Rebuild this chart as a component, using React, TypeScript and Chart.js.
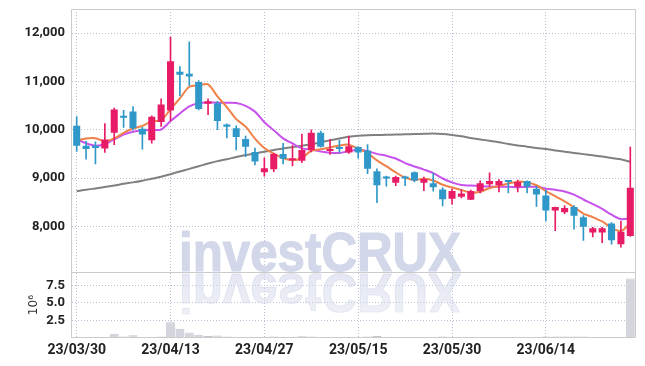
import React, { useEffect, useRef } from "react";
import { Chart, registerables } from "chart.js";

Chart.register(...registerables);

const dates = [
  "23/03/30", "23/03/31", "23/04/03", "23/04/04", "23/04/05", "23/04/06", "23/04/07", "23/04/10", "23/04/11", "23/04/12",
  "23/04/13", "23/04/14", "23/04/17", "23/04/18", "23/04/19", "23/04/20", "23/04/21", "23/04/24", "23/04/25", "23/04/26",
  "23/04/27", "23/04/28", "23/05/02", "23/05/03", "23/05/04", "23/05/08", "23/05/09", "23/05/10", "23/05/11", "23/05/12",
  "23/05/15", "23/05/16", "23/05/17", "23/05/18", "23/05/19", "23/05/22", "23/05/23", "23/05/24", "23/05/25", "23/05/26",
  "23/05/30", "23/05/31", "23/06/01", "23/06/02", "23/06/05", "23/06/07", "23/06/08", "23/06/09", "23/06/12", "23/06/13",
  "23/06/14", "23/06/15", "23/06/16", "23/06/19", "23/06/20", "23/06/21", "23/06/22", "23/06/23", "23/06/26", "23/06/27",
];

const opens = [
  10080, 9670, 9670, 9610, 9940, 10280, 10380, 10020, 9780, 10160,
  10400, 11200, 11160, 10990, 10540, 10550, 10110, 10030, 9810, 9540,
  9120, 9180, 9500, 9370, 9360, 9580, 9940, 9560, 9640, 9530,
  9640, 9570, 9140, 9020, 8900, 9020, 9120, 8900, 8890, 8760,
  8570, 8610, 8550, 8730, 8870, 8850, 8940, 8820, 8940, 8780,
  8640, 8330, 8290, 8400, 8190, 7870, 7870, 8060, 7630, 7800,
];
const highs = [
  10270, 9760, 9750, 10130, 10450, 10400, 10480, 10050, 10290, 10640,
  11920, 11310, 11820, 11020, 10640, 10590, 10120, 10080, 9870, 9620,
  9420, 9510, 9720, 9670, 9910, 10000, 9970, 9800, 9780, 9870,
  9650, 9690, 9190, 9040, 9040, 9040, 9130, 9020, 9100, 8800,
  8770, 8760, 8750, 8940, 9110, 8970, 8950, 8960, 8940, 8830,
  8750, 8400, 8430, 8430, 8220, 7980, 7980, 8080, 8110, 9640,
];
const lows = [
  9550, 9390, 9290, 9530, 9690, 10050, 9990, 9600, 9720, 10070,
  10180, 10700, 10920, 10410, 10310, 10000, 9830, 9580, 9440, 9270,
  9040, 9130, 9290, 9250, 9320, 9540, 9640, 9490, 9530, 9510,
  9410, 9090, 8490, 8830, 8840, 8840, 8920, 8740, 8730, 8420,
  8460, 8590, 8550, 8690, 8830, 8710, 8690, 8710, 8690, 8410,
  8110, 7910, 8260, 7940, 7710, 7780, 7660, 7630, 7570, 7790,
];
const closes = [
  9670, 9600, 9620, 9800, 10420, 10250, 10030, 9900, 10270, 10520,
  11420, 11140, 11100, 10430, 10590, 10180, 10060, 9850, 9650, 9340,
  9200, 9500, 9400, 9410, 9580, 9940, 9650, 9600, 9600, 9660,
  9530, 9190, 8850, 8990, 9020, 8990, 8950, 8980, 8810, 8560,
  8730, 8680, 8730, 8890, 8940, 8940, 8920, 8920, 8820, 8660,
  8330, 8400, 8380, 8220, 7990, 7960, 7960, 7710, 7890, 8800,
];

const ma5 = [
  9780, 9820, 9825, 9760, 9820, 9935, 10025, 10080, 10175, 10195,
  10425, 10650, 10890, 10920, 10940, 10690, 10470, 10220, 10065, 9815,
  9620, 9505, 9415, 9370, 9415, 9565, 9595, 9635, 9675, 9690,
  9605, 9515, 9365, 9245, 9115, 9010, 8960, 8985, 8950, 8860,
  8805, 8750, 8700, 8715, 8795, 8835, 8885, 8925, 8910, 8850,
  8730, 8625, 8515, 8395, 8265, 8190, 8100, 7970, 7900, 8065,
];
const ma10 = [
  9800, 9720, 9670, 9700, 9800, 9900, 9960, 9985, 9995, 10005,
  10180, 10335, 10485, 10550, 10565, 10560, 10560, 10555, 10495, 10375,
  10155, 9990, 9820, 9715, 9615, 9590, 9550, 9525, 9520, 9555,
  9585, 9555, 9500, 9460, 9405, 9310, 9240, 9175, 9100, 8990,
  8910, 8855, 8845, 8835, 8825, 8820, 8820, 8810, 8815, 8820,
  8780, 8755, 8720, 8655, 8555, 8460, 8360, 8240, 8150, 8165,
];
const maLong = [
  8730, 8755, 8785, 8815, 8845, 8880, 8910, 8945, 8985, 9025,
  9080, 9135, 9190, 9245, 9300, 9350, 9390, 9435, 9475, 9510,
  9545, 9580, 9610, 9640, 9670, 9700, 9740, 9780, 9820, 9855,
  9875, 9885, 9890, 9895, 9900, 9905, 9910, 9915, 9920, 9910,
  9890, 9865, 9830, 9800, 9770, 9740, 9705, 9675, 9650, 9620,
  9600, 9570, 9545, 9520, 9495, 9470, 9445, 9415, 9390, 9335,
];

// volume, in millions of shares
const volumes = [
  0.15, 0.1, 0.1, 0.15, 0.6, 0.2, 0.4, 0.15, 0.15, 0.2,
  2.26, 1.3, 0.8, 0.45, 0.3, 0.35, 0.2, 0.15, 0.1, 0.15,
  0.15, 0.2, 0.1, 0.1, 0.25, 0.2, 0.15, 0.1, 0.1, 0.1,
  0.1, 0.2, 0.3, 0.1, 0.1, 0.1, 0.1, 0.1, 0.1, 0.2,
  0.1, 0.1, 0.1, 0.1, 0.1, 0.1, 0.1, 0.1, 0.1, 0.1,
  0.2, 0.2, 0.2, 0.2, 0.2, 0.1, 0.1, 0.15, 0.15, 8.47,
];

const priceTicks = [8000, 9000, 10000, 11000, 12000];
const volumeTicks = [2.5, 5, 7.5];

const UP = "#e81c66";
const DOWN = "#2f98c8";
const GRID = "#b9bfd4";
const FONT = "Roboto, 'Liberation Sans', sans-serif";

const framePlugin = {
  id: "frame",
  beforeDatasetsDraw(chart: any) {
    const ctx = chart.ctx;
    const text = "investCRUX";
    ctx.save();
    ctx.font = "bold 55px 'Liberation Sans', Arial, sans-serif";
    const w = ctx.measureText(text).width;
    const base = chart.scales.y.bottom - 1;
    ctx.translate(171, base);
    ctx.scale(282 / w, 1);
    ctx.textBaseline = "alphabetic";
    ctx.lineJoin = "round";
    ctx.fillStyle = "#d2d7e9";
    ctx.strokeStyle = "#d2d7e9";
    ctx.lineWidth = 1.2;
    ctx.fillText(text, 0, 0);
    ctx.strokeText(text, 0, 0);
    ctx.scale(1, -1);
    const g = ctx.createLinearGradient(0, 0, 0, -46);
    g.addColorStop(0, "rgba(210,215,233,0.6)");
    g.addColorStop(1, "rgba(210,215,233,0.35)");
    ctx.fillStyle = g;
    ctx.strokeStyle = g;
    ctx.fillText(text, 0, -3);
    ctx.strokeText(text, 0, -3);
    ctx.restore();
  },
  afterDatasetsDraw(chart: any) {
    const ctx = chart.ctx;
    const { left, right, top, bottom } = chart.chartArea;
    const sep = chart.scales.y.bottom;
    ctx.save();
    ctx.strokeStyle = "#cbcbcb";
    ctx.lineWidth = 1;
    const L = Math.round(left) - 0.5;
    const R = Math.round(right) + 0.5;
    const T = Math.round(top) + 0.5;
    const B = Math.round(bottom) - 0.5;
    const S = Math.round(sep) + 0.5;
    ctx.beginPath();
    ctx.moveTo(L, T);
    ctx.lineTo(R, T);
    ctx.lineTo(R, B);
    ctx.lineTo(L, B);
    ctx.closePath();
    ctx.moveTo(L, S);
    ctx.lineTo(R, S);
    ctx.stroke();
    ctx.restore();
  },
};

const noPad = (s: any) => {
  s.width = 64;
  s.paddingTop = 0;
  s.paddingBottom = 0;
};

export default function App() {
  const ref = useRef<HTMLCanvasElement>(null);

  useEffect(() => {
    if (!ref.current) return;
    const colors = opens.map((o, i) => (closes[i] >= o ? UP : DOWN));
    const chart = new Chart(ref.current, {
      type: "bar",
      data: {
        labels: dates,
        datasets: [
          {
            type: "bar",
            label: "body",
            data: opens.map((o, i) => [o, closes[i]]) as any,
            backgroundColor: colors,
            borderWidth: 0,
            barPercentage: 0.75,
            categoryPercentage: 1,
            grouped: false,
            minBarLength: 2,
            yAxisID: "y",
            order: 0,
          } as any,
          {
            type: "bar",
            label: "wick",
            data: lows.map((l, i) => [l, highs[i]]) as any,
            backgroundColor: colors,
            borderWidth: 0,
            barThickness: 1,
            grouped: false,
            yAxisID: "y",
            order: 1,
          } as any,
          {
            type: "line",
            label: "MA5",
            data: ma5,
            borderColor: "rgba(238,128,72,1)",
            borderWidth: 2,
            pointRadius: 0,
            tension: 0.3,
            yAxisID: "y",
            order: 2,
          },
          {
            type: "line",
            label: "MA10",
            data: ma10,
            borderColor: "rgba(200,82,236,1)",
            borderWidth: 2,
            pointRadius: 0,
            tension: 0.3,
            yAxisID: "y",
            order: 3,
          },
          {
            type: "line",
            label: "MA long",
            data: maLong,
            borderColor: "rgba(128,128,128,1)",
            borderWidth: 2,
            pointRadius: 0,
            tension: 0.3,
            yAxisID: "y",
            order: 4,
          },
          {
            type: "bar",
            label: "volume",
            data: volumes,
            backgroundColor: "#d5d5dd",
            borderColor: "#c4c4cf",
            borderWidth: { top: 1, left: 0, right: 0, bottom: 0 },
            barPercentage: 1,
            categoryPercentage: 0.97,
            grouped: false,
            yAxisID: "yv",
            order: 5,
          } as any,
        ],
      },
      options: {
        animation: false,
        responsive: false,
        devicePixelRatio: 1,
        layout: { padding: { top: 1, right: 2, left: 0, bottom: 0 } },
        plugins: { legend: { display: false }, tooltip: { enabled: false } },
        scales: {
          x: {
            type: "category",
            offset: true,
            grid: { offset: false, color: GRID, drawTicks: false },
            border: { display: false, dash: [1, 2] },
            ticks: {
              autoSkip: false,
              maxRotation: 0,
              padding: 4,
              color: "#222",
              font: { family: FONT, size: 14, weight: "bold" },
              callback: (_v: any, i: number) => (i % 10 === 0 ? dates[i] : null),
            },
            afterFit: (s: any) => {
              s.height = 20;
            },
          },
          yv: {
            type: "linear",
            position: "left",
            stack: "panes",
            stackWeight: 1,
            min: 0,
            max: 9.37,
            grid: { color: GRID, drawTicks: false },
            border: { display: false, dash: [1, 2] },
            afterBuildTicks: (s: any) => {
              s.ticks = volumeTicks.map((v) => ({ value: v }));
            },
            ticks: {
              autoSkip: false,
              padding: 7,
              color: "#222",
              font: { family: FONT, size: 13, weight: "bold" },
              callback: (v: any) => Number(v).toFixed(1),
            },
            title: {
              display: true,
              text: "10\u2076",
              color: "#333",
              font: { family: "'DejaVu Sans', sans-serif", size: 12 },
              padding: { top: 19, bottom: 0 },
            },
            afterFit: noPad,
          },
          y: {
            type: "linear",
            position: "left",
            stack: "panes",
            stackWeight: 4,
            min: 7050,
            max: 12500,
            grid: { color: GRID, drawTicks: false },
            border: { display: false, dash: [1, 2] },
            afterBuildTicks: (s: any) => {
              s.ticks = priceTicks.map((v) => ({ value: v }));
            },
            ticks: {
              autoSkip: false,
              padding: 7,
              color: "#222",
              font: { family: FONT, size: 13, weight: "bold" },
              callback: (v: any) => Number(v).toLocaleString("en-US"),
            },
            afterFit: noPad,
          },
        } as any,
      },
      plugins: [framePlugin],
    });
    return () => chart.destroy();
  }, []);

  return (
    <div style={{ width: 629, height: 350 }}>
      <canvas ref={ref} width={629} height={350} style={{ display: "block" }} />
    </div>
  );
}
